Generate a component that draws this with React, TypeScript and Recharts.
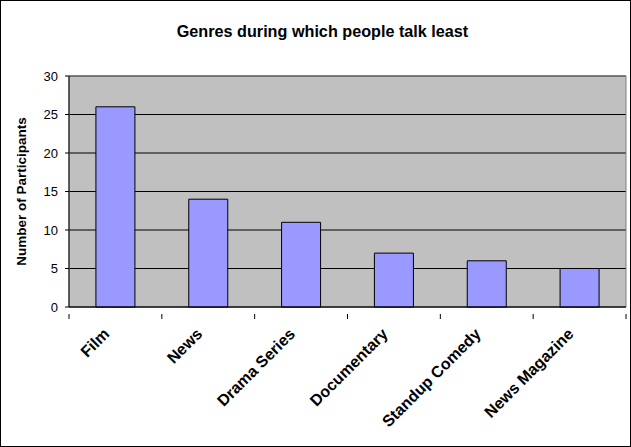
import React from "react";
import {
  BarChart,
  Bar,
  XAxis,
  YAxis,
  CartesianGrid,
  ReferenceArea,
} from "recharts";

const genres = [
  "Film",
  "News",
  "Drama Series",
  "Documentary",
  "Standup Comedy",
  "News Magazine",
];
const participants = [26, 14, 11, 7, 6, 5];
const yTicks = [0, 5, 10, 15, 20, 25, 30];

const data = genres.map((genre, i) => ({ genre, count: participants[i] }));

const W = 631;
const H = 447;
const PLOT_LEFT = 69;
const PLOT_RIGHT = 626;
const BAND = (PLOT_RIGHT - PLOT_LEFT) / genres.length;
const FONT = "'Liberation Sans', Arial, sans-serif";

// Excel-style category tick: marks sit on band boundaries, label rotated 45deg
function GenreTick(props: any) {
  const { x, y, payload, index } = props;
  const left = x - BAND / 2;
  const right = x + BAND / 2;
  const last = index === genres.length - 1;
  return (
    <g>
      <line x1={left} y1={y - 1} x2={left} y2={y + 4} stroke="#000" />
      {last && <line x1={right} y1={y - 1} x2={right} y2={y + 4} stroke="#000" />}
      <g transform={`translate(${x - 5},${y + 20})`}>
        <text
          x={0}
          y={0}
          textAnchor="end"
          transform="rotate(-45)"
          fontFamily={FONT}
          fontWeight="bold"
          fontSize={16}
          fill="#000"
        >
          {payload.value}
        </text>
      </g>
    </g>
  );
}

export default function App() {
  return (
    <div
      style={{
        position: "absolute",
        left: 0,
        top: 0,
        width: W,
        height: H,
        background: "#fff",
        border: "1px solid #000",
        boxSizing: "border-box",
      }}
    >
      <div
        style={{
          position: "absolute",
          top: 21,
          left: 7,
          width: W - 2,
          textAlign: "center",
          fontFamily: FONT,
          fontWeight: "bold",
          fontSize: 16.2,
        }}
      >
        Genres during which people talk least
      </div>
      <div style={{ position: "absolute", left: -1, top: -1 }}>
        <BarChart
          width={W}
          height={H}
          data={data}
          margin={{ top: 76, right: W - PLOT_RIGHT, left: 0, bottom: 0 }}
          barCategoryGap="29%"
        >
          <CartesianGrid
            vertical={false}
            stroke="#000"
            fill="#C0C0C0"
            fillOpacity={1}
          />
          <ReferenceArea
            y1={0}
            y2={30}
            fill="none"
            stroke="#808080"
            strokeWidth={1}
          />
          <XAxis
            dataKey="genre"
            interval={0}
            height={H - 307}
            axisLine={{ stroke: "#000" }}
            tickLine={false}
            tick={<GenreTick />}
          />
          <YAxis
            width={PLOT_LEFT}
            domain={[0, 30]}
            ticks={yTicks}
            interval={0}
            axisLine={{ stroke: "#000" }}
            tickLine={{ stroke: "#000" }}
            tickSize={4}
            tickMargin={7}
            tick={{ fontFamily: FONT, fontSize: 13, fill: "#000" }}
            label={{
              value: "Number of Participants",
              angle: -90,
              position: "insideLeft",
              offset: 21,
              style: {
                fontFamily: FONT,
                fontWeight: "bold",
                fontSize: 13.5,
                fill: "#000",
                textAnchor: "middle",
              },
            }}
          />
          <Bar
            dataKey="count"
            fill="#9999FF"
            stroke="#000"
            strokeWidth={1}
            isAnimationActive={false}
          />
        </BarChart>
      </div>
    </div>
  );
}
